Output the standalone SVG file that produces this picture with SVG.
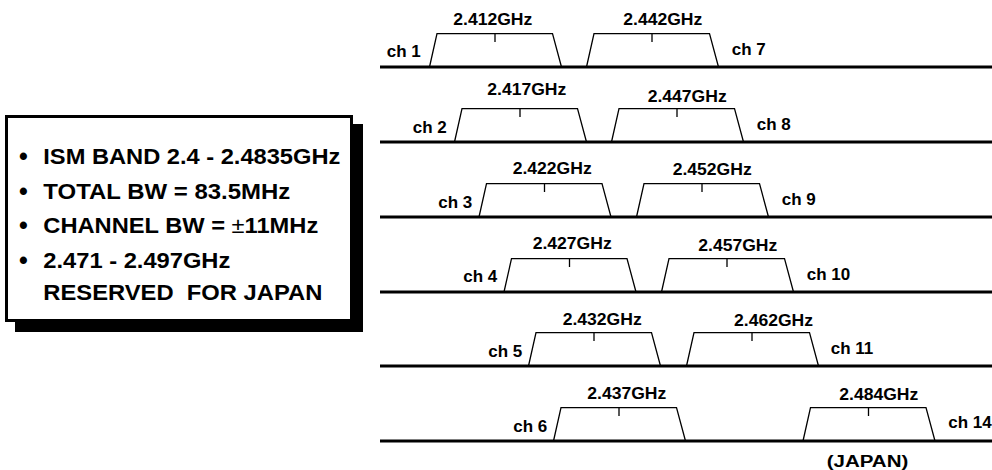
<svg xmlns="http://www.w3.org/2000/svg" width="992" height="470" viewBox="0 0 992 470">
<style>
text{font-family:"Liberation Sans",Arial,Helvetica,sans-serif;font-weight:bold;fill:#000}
.box{font-size:22px}
.bul{font-size:25px}
.fq{font-size:16px}
.ch{font-size:17px}
.axis{stroke:#000;stroke-width:3;fill:none}
.trap{stroke:#000;stroke-width:1.3;fill:none}
</style>
<defs>
<path id="tp" class="trap" d="M-65.5,0 L-58,-33.3 L57.5,-33.3 L66.5,0 M0,-33.3 V-25"/>
</defs>
<rect width="992" height="470" fill="#fff"/>
<g id="info-box">
<rect x="15" y="124" width="348" height="208" fill="#000"/>
<rect x="6.5" y="116.5" width="345" height="204" fill="#fff" stroke="#000" stroke-width="3"/>
<text class="bul" x="19" y="165">•</text>
<text class="box" x="43.3" y="164.3" textLength="297" lengthAdjust="spacingAndGlyphs">ISM BAND 2.4 - 2.4835GHz</text>
<text class="bul" x="19" y="200">•</text>
<text class="box" x="43.3" y="199.3" textLength="247" lengthAdjust="spacingAndGlyphs">TOTAL BW = 83.5MHz</text>
<text class="bul" x="19" y="234">•</text>
<text class="box" x="43.3" y="233.3" textLength="275" lengthAdjust="spacingAndGlyphs">CHANNEL BW = <tspan font-weight="normal">±</tspan>11MHz</text>
<text class="bul" x="19" y="269">•</text>
<text class="box" x="43.3" y="268.3" textLength="187" lengthAdjust="spacingAndGlyphs">2.471 - 2.497GHz</text>
<text class="box" x="43.3" y="300" textLength="279" lengthAdjust="spacingAndGlyphs" xml:space="preserve">RESERVED  FOR JAPAN</text>
</g>
<g id="axes">
<line class="axis" x1="380" y1="67" x2="992" y2="67"/>
<line class="axis" x1="380" y1="142" x2="992" y2="142"/>
<line class="axis" x1="380" y1="217" x2="992" y2="217"/>
<line class="axis" x1="380" y1="292" x2="992" y2="292"/>
<line class="axis" x1="380" y1="366" x2="992" y2="366"/>
<line class="axis" x1="380" y1="441" x2="992" y2="441"/>
</g>
<g id="ch1"><use href="#tp" transform="translate(495,67)"/><text class="fq" x="453.3" y="25" textLength="79" lengthAdjust="spacingAndGlyphs">2.412GHz</text><text class="ch" x="386.7" y="56.7">ch 1</text></g>
<g id="ch7"><use href="#tp" transform="translate(652,67)"/><text class="fq" x="623.3" y="25" textLength="79" lengthAdjust="spacingAndGlyphs">2.442GHz</text><text class="ch" x="731.7" y="55">ch 7</text></g>
<g id="ch2"><use href="#tp" transform="translate(520,142)"/><text class="fq" x="487.3" y="95" textLength="79" lengthAdjust="spacingAndGlyphs">2.417GHz</text><text class="ch" x="412.7" y="133.3">ch 2</text></g>
<g id="ch8"><use href="#tp" transform="translate(677,142)"/><text class="fq" x="647.7" y="101.7" textLength="79" lengthAdjust="spacingAndGlyphs">2.447GHz</text><text class="ch" x="756.7" y="130">ch 8</text></g>
<g id="ch3"><use href="#tp" transform="translate(544.5,217)"/><text class="fq" x="512.7" y="174" textLength="79" lengthAdjust="spacingAndGlyphs">2.422GHz</text><text class="ch" x="438.3" y="208.3">ch 3</text></g>
<g id="ch9"><use href="#tp" transform="translate(702,217)"/><text class="fq" x="672.7" y="175" textLength="79" lengthAdjust="spacingAndGlyphs">2.452GHz</text><text class="ch" x="781.7" y="205">ch 9</text></g>
<g id="ch4"><use href="#tp" transform="translate(569.5,292)"/><text class="fq" x="532.7" y="249.3" textLength="79" lengthAdjust="spacingAndGlyphs">2.427GHz</text><text class="ch" x="463.3" y="281.7">ch 4</text></g>
<g id="ch10"><use href="#tp" transform="translate(727,292)"/><text class="fq" x="698.3" y="250.7" textLength="79" lengthAdjust="spacingAndGlyphs">2.457GHz</text><text class="ch" x="806.7" y="280">ch 10</text></g>
<g id="ch5"><use href="#tp" transform="translate(594,366)"/><text class="fq" x="562.7" y="325" textLength="79" lengthAdjust="spacingAndGlyphs">2.432GHz</text><text class="ch" x="488.3" y="356.7">ch 5</text></g>
<g id="ch11"><use href="#tp" transform="translate(752,366)"/><text class="fq" x="734" y="326" textLength="79" lengthAdjust="spacingAndGlyphs">2.462GHz</text><text class="ch" x="830.7" y="354.3">ch 11</text></g>
<g id="ch6"><use href="#tp" transform="translate(619,441)"/><text class="fq" x="587.3" y="399.3" textLength="79" lengthAdjust="spacingAndGlyphs">2.437GHz</text><text class="ch" x="513.3" y="431.7">ch 6</text></g>
<g id="ch14"><use href="#tp" transform="translate(868.5,441)"/><text class="fq" x="839.3" y="400" textLength="79" lengthAdjust="spacingAndGlyphs">2.484GHz</text><text class="ch" x="948.3" y="428.3">ch 14</text><text class="fq" x="826.7" y="466.7" textLength="81.6" lengthAdjust="spacingAndGlyphs" font-size="18">(JAPAN)</text></g>
</svg>
